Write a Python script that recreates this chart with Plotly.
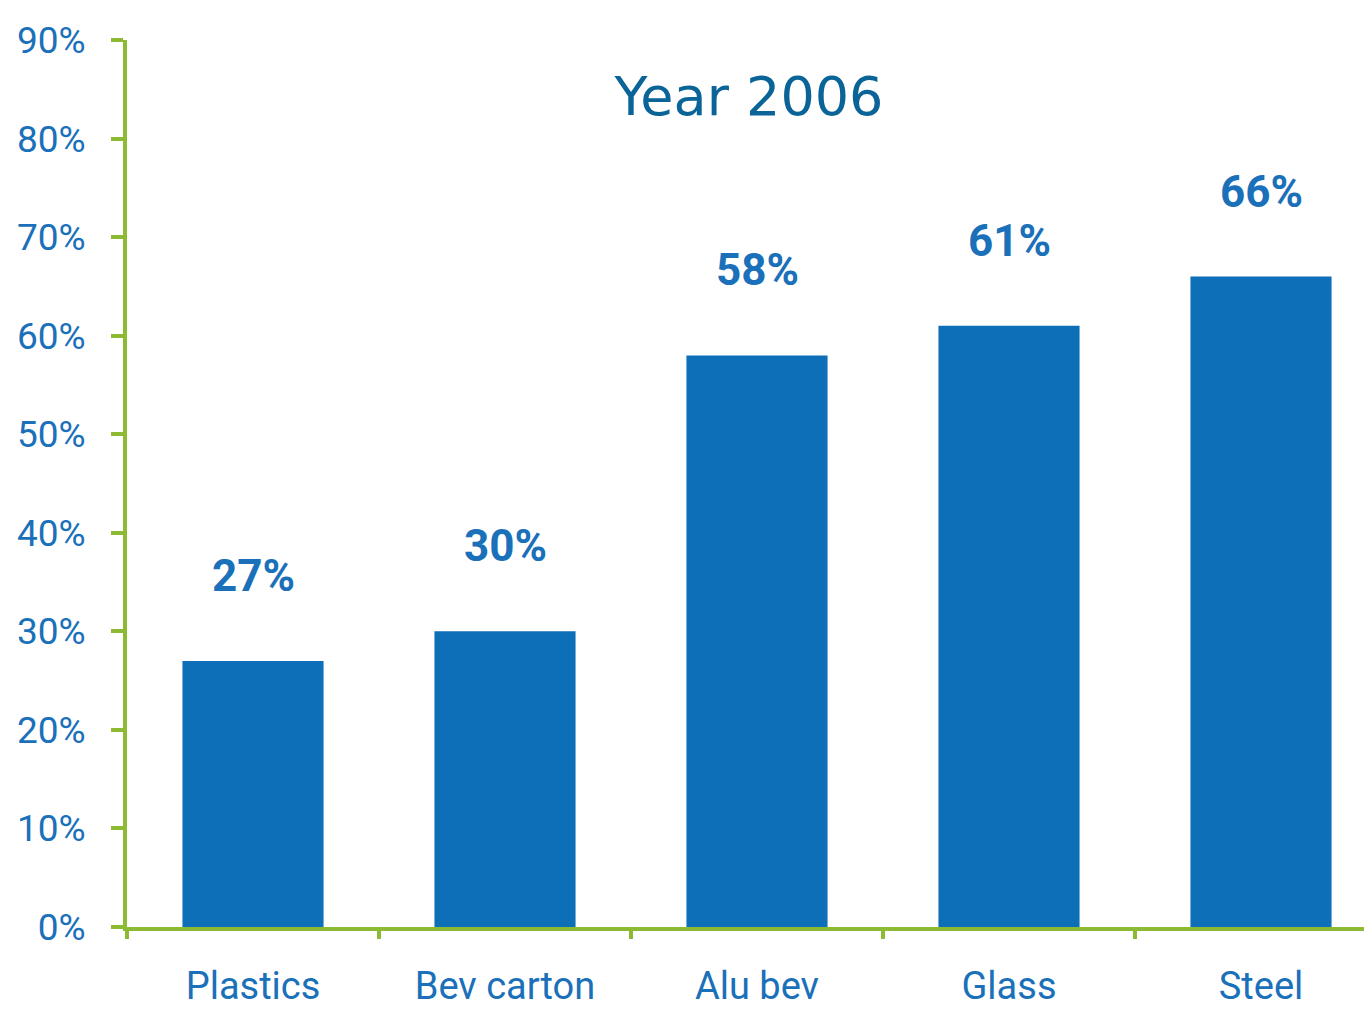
import plotly.graph_objects as go

categories = ["Plastics", "Bev carton", "Alu bev", "Glass", "Steel"]
values = [27, 30, 58, 61, 66]
value_labels = ["27%", "30%", "58%", "61%", "66%"]
y_ticks = [0, 10, 20, 30, 40, 50, 60, 70, 80, 90]
y_tick_labels = ["0%", "10%", "20%", "30%", "40%", "50%", "60%", "70%", "80%", "90%"]

BLUE = "#0d6fb8"
TXT = "#1a70b9"
GREEN = "#8cba32"
FONT = "Roboto, Liberation Sans, sans-serif"

W, H = 1364, 1008
L, T, B = 119, 32, 89

fig = go.Figure()
fig.add_trace(go.Bar(x=categories, y=values, marker=dict(color=BLUE, line=dict(width=0)),
                     width=0.56, hoverinfo="skip"))

for c, v, t in zip(categories, values, value_labels):
    fig.add_annotation(x=c, y=v, text="<b>" + t + "</b>", showarrow=False, yanchor="bottom",
                       yshift=57, font=dict(family=FONT, size=44, color=TXT))

fig.update_layout(
    width=W, height=H,
    margin=dict(l=L, r=0, t=T, b=B, autoexpand=False),
    paper_bgcolor="white", plot_bgcolor="white",
    showlegend=False,
    title=dict(text="Year 2006", x=741 / W, xanchor="center", y=1 - 88 / H,
               yanchor="middle", font=dict(family="DejaVu Sans, Verdana, sans-serif",
                                           size=54, color="#0b6497")),
    xaxis=dict(type="category", range=[-0.5, -0.5 + (W - L) / 252], automargin=False,
               showline=True, linecolor=GREEN, linewidth=4,
               ticks="outside", tickson="boundaries", ticklen=8, tickwidth=4,
               tickcolor=GREEN, showgrid=False, ticklabelstandoff=22,
               tickfont=dict(family=FONT, size=38, color=TXT)),
    yaxis=dict(range=[0, 90], tickvals=y_ticks, ticktext=y_tick_labels, automargin=False,
               showline=True, linecolor=GREEN, linewidth=4,
               ticks="outside", ticklen=12, tickwidth=4, tickcolor=GREEN,
               showgrid=False, zeroline=False, ticklabelstandoff=18,
               tickfont=dict(family=FONT, size=37, color=TXT)),
)

fig.write_html("out.html")
